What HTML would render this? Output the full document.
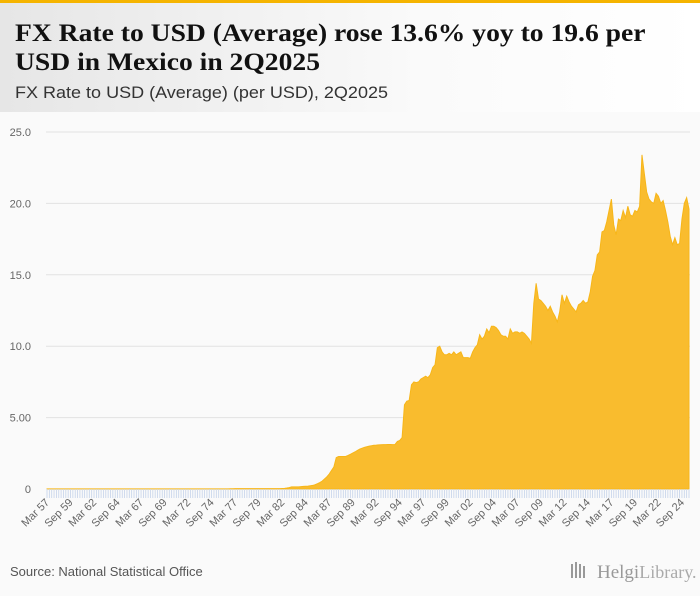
<!DOCTYPE html>
<html><head><meta charset="utf-8"><style>
html,body{margin:0;padding:0;width:700px;height:596px;overflow:hidden;background:#fafafa}
svg{display:block}
</style></head><body>
<svg id="c" width="700" height="596" xmlns="http://www.w3.org/2000/svg">
<defs><linearGradient id="hg" x1="0" x2="1" y1="0" y2="0"><stop offset="0" stop-color="#e6e6e6"/><stop offset="0.6" stop-color="#fafafa"/><stop offset="1" stop-color="#ffffff"/></linearGradient></defs>
<rect x="0" y="0" width="700" height="596" fill="#fafafa"/>
<rect x="0" y="0" width="700" height="112" fill="url(#hg)"/>
<rect x="0" y="0" width="700" height="3" fill="#f5b400"/>
<text font-family="Liberation Serif, serif" font-weight="bold" font-size="25" fill="#111">
<tspan x="15" y="41" textLength="630" lengthAdjust="spacingAndGlyphs">FX Rate to USD (Average) rose 13.6% yoy to 19.6 per</tspan>
<tspan x="15" y="70" textLength="305" lengthAdjust="spacingAndGlyphs">USD in Mexico in 2Q2025</tspan></text>
<text x="15" y="98" font-family="Liberation Sans, sans-serif" font-size="17" fill="#333" textLength="373" lengthAdjust="spacingAndGlyphs">FX Rate to USD (Average) (per USD), 2Q2025</text>
<g id="grid"></g><g id="plot"></g><g id="xaxis"></g>
<text x="10" y="576" font-family="Liberation Sans, sans-serif" font-size="13" fill="#555">Source: National Statistical Office</text>
<g fill="#999">
<rect x="571" y="564" width="2" height="14"/><rect x="575" y="562" width="2" height="16"/><rect x="579" y="564" width="2" height="14"/><rect x="583" y="566" width="2" height="12"/>
<text x="597" y="578" font-family="Liberation Serif, serif" font-size="19" fill="#999">Helgi<tspan fill="#aaa" font-size="18">Library.</tspan></text></g>
</svg>
<script>
const categoriesStart = 1957;
const yTicks = [0, 5, 10, 15, 20, 25];
const yTickLabels = ["0", "5.00", "10.0", "15.0", "20.0", "25.0"];
const xTickLabels = ["Mar 57","Sep 59","Mar 62","Sep 64","Mar 67","Sep 69","Mar 72","Sep 74","Mar 77","Sep 79","Mar 82","Sep 84","Mar 87","Sep 89","Mar 92","Sep 94","Mar 97","Sep 99","Mar 02","Sep 04","Mar 07","Sep 09","Mar 12","Sep 14","Mar 17","Sep 19","Mar 22","Sep 24"];
const values = [
0.0125,0.0125,0.0125,0.0125, 0.0125,0.0125,0.0125,0.0125, 0.0125,0.0125,0.0125,0.0125, 0.0125,0.0125,0.0125,0.0125,
0.0125,0.0125,0.0125,0.0125, 0.0125,0.0125,0.0125,0.0125, 0.0125,0.0125,0.0125,0.0125, 0.0125,0.0125,0.0125,0.0125,
0.0125,0.0125,0.0125,0.0125, 0.0125,0.0125,0.0125,0.0125, 0.0125,0.0125,0.0125,0.0125, 0.0125,0.0125,0.0125,0.0125,
0.0125,0.0125,0.0125,0.0125, 0.0125,0.0125,0.0125,0.0125, 0.0125,0.0125,0.0125,0.0125, 0.0125,0.0125,0.0125,0.0125,
0.0125,0.0125,0.0125,0.0125, 0.0125,0.0125,0.0125,0.0125, 0.0125,0.0125,0.0125,0.0125,
0.0125,0.0125,0.0197,0.0199, 0.0226,0.0228,0.0227,0.0228, 0.0227,0.0227,0.0227,0.0227, 0.0227,0.0228,0.0228,0.0229,
0.0229,0.0229,0.0230,0.0232, 0.0236,0.0241,0.0250,0.0258, 0.035,0.047,0.07,0.10, 0.15,0.15,0.15,0.15,
0.17,0.18,0.19,0.20, 0.23,0.25,0.30,0.37, 0.45,0.55,0.70,0.85, 1.05,1.30,1.55,2.20,
2.28,2.28,2.28,2.28, 2.35,2.43,2.52,2.60, 2.70,2.80,2.86,2.92, 2.96,3.00,3.03,3.06,
3.07,3.09,3.10,3.11, 3.11,3.12,3.12,3.11, 3.12,3.33,3.40,3.60, 5.90,6.15,6.20,7.30,
7.50,7.45,7.50,7.70, 7.80,7.90,7.80,8.00, 8.50,8.70,9.90,10.0, 9.60,9.40,9.40,9.50,
9.40,9.60,9.40,9.50, 9.60,9.20,9.20,9.20, 9.15,9.60,9.90,10.1, 10.8,10.5,10.7,11.2,
10.95,11.4,11.4,11.3, 11.1,10.8,10.7,10.7, 10.5,11.2,10.9,11.0, 11.0,10.9,11.0,10.9,
10.7,10.5,10.2,13.0, 14.4,13.3,13.2,13.0, 12.8,12.5,12.8,12.4, 12.1,11.7,12.4,13.6,
13.0,13.5,13.1,12.8, 12.6,12.4,12.9,13.0, 13.2,13.0,13.1,13.8, 14.9,15.3,16.4,16.6,
18.0,18.1,18.7,19.5, 20.3,18.5,17.8,18.9, 18.8,19.5,19.0,19.8, 19.2,19.1,19.5,19.4,
19.8,23.4,22.1,20.8, 20.3,20.1,20.0,20.7, 20.5,20.0,20.2,19.5, 18.7,17.7,17.1,17.6,
17.1,17.2,18.9,20.0, 20.4,19.6];
const NS='http://www.w3.org/2000/svg';
const X0=47,X1=689,Y0=489,Ytop=132,YMAX=25;
const n=values.length;
const xs=i=>X0+i*(X1-X0)/(n-1);
const ys=v=>Y0-(v/YMAX)*(Y0-Ytop);
function mk(tag,attrs,parent){const e=document.createElementNS(NS,tag);for(const k in attrs)e.setAttribute(k,attrs[k]);parent.appendChild(e);return e;}
const grid=document.getElementById('grid'),plot=document.getElementById('plot'),xa=document.getElementById('xaxis');
yTicks.forEach((t,i)=>{
  if(t>0){const l=mk('line',{x1:X0-1,x2:690,y1:ys(t),y2:ys(t),stroke:'#e2e2e2','stroke-width':1},grid);
  
  }
  const tx=mk('text',{x:31,y:ys(t)+4,'text-anchor':'end','font-family':'Liberation Sans, sans-serif','font-size':11,fill:'#666'},grid);
  tx.textContent=yTickLabels[i];
  
  
});
let d='M'+xs(0)+','+Y0;
values.forEach((v,i)=>{d+=' L'+xs(i).toFixed(2)+','+ys(v).toFixed(2);});
d+=' L'+xs(n-1)+','+Y0+' Z';
const area=mk('path',{d:d,fill:'#f9bc2e',stroke:'#f7b619','stroke-width':1},plot);


for(let i=0;i<n;i++){
  const t=mk('line',{x1:xs(i),x2:xs(i),y1:Y0,y2:Y0+9,stroke:'#c5d3ea','stroke-width':0.8},xa);
  
  
}
xTickLabels.forEach((lab,k)=>{
  const x=xs(k*10)+3,y=Y0+14;
  const tx=mk('text',{x:x,y:y,'text-anchor':'end','font-family':'Liberation Sans, sans-serif','font-size':11,fill:'#666',transform:'rotate(-45 '+x+' '+y+')'},xa);
  tx.textContent=lab;
  
  
});
</script>
</body></html>
